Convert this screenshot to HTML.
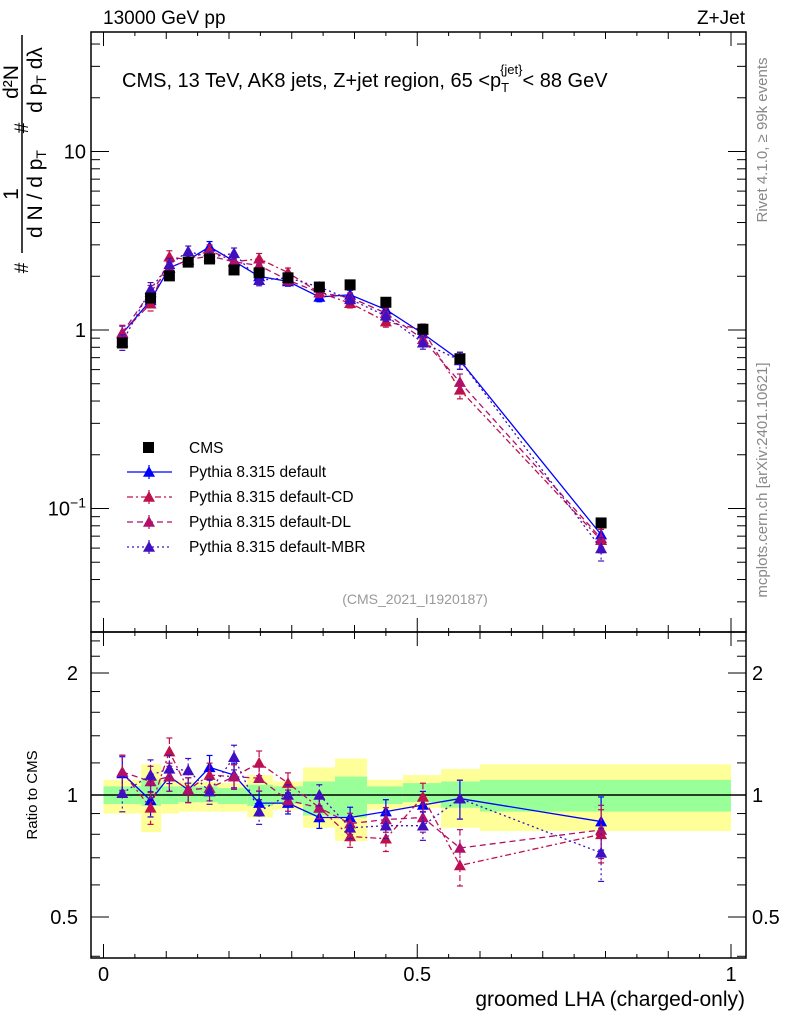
<!DOCTYPE html>
<html><head><meta charset="utf-8"><style>
body{margin:0;background:#fff}
svg{display:block;font-family:"Liberation Sans",sans-serif}
</style></head><body>
<svg id="c" width="786" height="1024" viewBox="0 0 786 1024" xmlns="http://www.w3.org/2000/svg">
<g id="bands"></g>
<g id="marks"></g>
<g id="axes"></g>
<text x="103" y="24" font-size="19">13000 GeV pp</text>
<text x="745" y="24" font-size="19" text-anchor="end">Z+Jet</text>
<text x="122" y="87" font-size="20">CMS, 13 TeV, AK8 jets, Z+jet region, 65 &lt;p<tspan font-size="13" dy="5">T</tspan><tspan font-size="13" dx="-9" dy="-18">{jet}</tspan><tspan dy="13">&lt; 88 GeV</tspan></text>
<text x="415" y="604" font-size="14" fill="#999" text-anchor="middle">(CMS_2021_I1920187)</text>
<text transform="translate(767,140) rotate(-90)" font-size="15" fill="#888" text-anchor="middle">Rivet 4.1.0, ≥ 99k events</text>
<text transform="translate(767,480) rotate(-90)" font-size="15" fill="#888" text-anchor="middle">mcplots.cern.ch [arXiv:2401.10621]</text>
<g font-size="21">
<line x1="22" y1="35" x2="22" y2="253" stroke="#000" stroke-width="1.5"/>
<text transform="translate(18,194) rotate(-90)" text-anchor="middle">1</text>
<text transform="translate(42,194) rotate(-90)" text-anchor="middle">d N / d p<tspan font-size="14" dy="4">T</tspan></text>
<text transform="translate(28,268) rotate(-90)" text-anchor="middle" font-size="19">#</text>
<text transform="translate(18,82) rotate(-90)" text-anchor="middle">d²N</text>
<text transform="translate(42,80) rotate(-90)" text-anchor="middle">d p<tspan font-size="14" dy="4">T</tspan><tspan dy="-4"> dλ</tspan></text>
<text transform="translate(28,128) rotate(-90)" text-anchor="middle" font-size="19">#</text>
</g>
<text transform="translate(37,795) rotate(-90)" font-size="15" text-anchor="middle">Ratio to CMS</text>
<text x="745" y="1006" font-size="21" text-anchor="end">groomed LHA (charged-only)</text>
<g id="legend" font-size="15.5"></g>
</svg>
<script>
// ---- data ----
const xVals = [0.030,0.075,0.105,0.135,0.169,0.208,0.248,0.294,0.344,0.393,0.450,0.509,0.568,0.793];
const binEdges = [0,0.060,0.092,0.120,0.151,0.182,0.229,0.270,0.318,0.369,0.420,0.477,0.538,0.600,1.0];
const cmsVals = [0.846,1.51,2.01,2.40,2.50,2.17,2.09,1.96,1.74,1.79,1.43,1.01,0.69,0.083];
const bandYellowUp = [1.09,1.19,1.09,1.08,1.08,1.07,1.12,1.08,1.17,1.23,1.09,1.12,1.16,1.19];
const bandYellowDn = [0.90,0.81,0.90,0.91,0.91,0.91,0.88,0.92,0.83,0.77,0.92,0.93,0.83,0.815];
const bandGreenUp = [1.05,1.09,1.05,1.05,1.05,1.04,1.06,1.05,1.08,1.11,1.05,1.07,1.08,1.09];
const bandGreenDn = [0.95,0.94,0.95,0.96,0.96,0.95,0.94,0.95,0.89,0.88,0.95,0.96,0.93,0.91];
const ratioDefault = [1.13,0.97,1.11,1.03,1.17,1.12,0.955,0.955,0.88,0.88,0.91,0.945,0.98,0.86];
const ratioCD = [1.14,0.93,1.28,1.03,1.12,1.11,1.20,1.07,0.93,0.79,0.78,0.99,0.67,0.80];
const ratioDL = [1.14,1.08,1.11,1.03,1.04,1.11,1.10,0.97,0.93,0.85,0.87,0.88,0.74,0.82];
const ratioMBR = [1.01,1.12,1.16,1.15,1.02,1.24,0.91,1.00,1.00,0.83,0.84,0.84,0.98,0.72];
const modelErr = [0.10,0.09,0.08,0.07,0.07,0.07,0.07,0.06,0.06,0.06,0.07,0.08,0.11,0.15];
const xTicks = [0,0.5,1];
const xTickLabels = ["0","0.5","1"];
const ratioTicks = [0.5,1,2];
const ratioTickLabels = ["0.5","1","2"];

// ---- scales ----
const X0=91,X1=746,TOP=32,MID=632,BOT=958;
const xs = v => 103.5 + 627.5*v;
const ys = v => 330 - 178.5*Math.log10(v);
const yr = r => 795 - 122*Math.log2(r);
const NS="http://www.w3.org/2000/svg";
function mk(parent,tag,attrs){const e=document.createElementNS(NS,tag);for(const k in attrs)e.setAttribute(k,attrs[k]);parent.appendChild(e);return e;}
const bands=document.getElementById('bands'),marks=document.getElementById('marks'),axes=document.getElementById('axes'),legend=document.getElementById('legend');

for(let i=0;i<xVals.length;i++){
  const xa=xs(binEdges[i]),xb=xs(binEdges[i+1]);
  let r=mk(bands,'rect',{x:xa,y:yr(bandYellowUp[i]),width:xb-xa,height:yr(bandYellowDn[i])-yr(bandYellowUp[i]),fill:'#ffff99'});
  
  
  let g=mk(bands,'rect',{x:xa,y:yr(bandGreenUp[i]),width:xb-xa,height:yr(bandGreenDn[i])-yr(bandGreenUp[i]),fill:'#99ff99'});
  
  
}
let one=mk(bands,'line',{x1:X0,x2:X1,y1:yr(1),y2:yr(1),stroke:'#000','stroke-width':1.5});



function tri(p,x,y,c){const s=6;return mk(p,'polygon',{points:`${x},${y-s} ${x-s},${y+s*0.8} ${x+s},${y+s*0.8}`,fill:c});}

const series=[
 {name:'Pythia 8.315 default',ratio:ratioDefault,color:'#0000ff',dash:'',key:'default'},
 {name:'Pythia 8.315 default-CD',ratio:ratioCD,color:'#c0104a',dash:'6,3,2,3',key:'cd'},
 {name:'Pythia 8.315 default-DL',ratio:ratioDL,color:'#b0106a',dash:'6,4',key:'dl'},
 {name:'Pythia 8.315 default-MBR',ratio:ratioMBR,color:'#4010c0',dash:'2,3',key:'mbr'}
];
series.forEach(s=>{
  const gm=mk(marks,'g',{});
  
  
  const mainPts=s.ratio.map((r,i)=>[xs(xVals[i]),ys(cmsVals[i]*r)]);
  const ratPts=s.ratio.map((r,i)=>[xs(xVals[i]),yr(r)]);
  [[mainPts,v=>ys(v),i=>cmsVals[i]*s.ratio[i]],[ratPts,v=>yr(v),i=>s.ratio[i]]].forEach(([pts,ysc,val])=>{
    const pl=mk(gm,'polyline',{points:pts.map(p=>p.join(',')).join(' '),fill:'none',stroke:s.color,'stroke-width':1.3,'stroke-dasharray':s.dash});
    
    
    pts.forEach((p,i)=>{
      const v=val(i),e=modelErr[i];
      mk(gm,'line',{x1:p[0],x2:p[0],y1:ysc(v*(1+e)),y2:ysc(v*(1-e)),stroke:s.color,'stroke-width':1.2,'stroke-dasharray':s.dash});
      mk(gm,'line',{x1:p[0]-3,x2:p[0]+3,y1:ysc(v*(1+e)),y2:ysc(v*(1+e)),stroke:s.color,'stroke-width':1.2});
      mk(gm,'line',{x1:p[0]-3,x2:p[0]+3,y1:ysc(v*(1-e)),y2:ysc(v*(1-e)),stroke:s.color,'stroke-width':1.2});
      const t=tri(gm,p[0],p[1],s.color);
      
      
    });
  });
});
cmsVals.forEach((v,i)=>{
  const x=xs(xVals[i]),y=ys(v);
  const r=mk(marks,'rect',{x:x-5.5,y:y-5.5,width:11,height:11,fill:'#000'});
  
  
});

[[TOP,MID],[MID,BOT]].forEach(([a,b])=>mk(axes,'rect',{x:X0,y:a,width:X1-X0,height:b-a,fill:'none',stroke:'#000','stroke-width':1.5}));
for(let k=0;k<=20;k++){
  const v=k*0.05,x=xs(v),L=(k%10===0)?14:(k%2===0?7:4);
  [[BOT,-1],[MID,-1],[MID,1],[TOP,1]].forEach(([y0,d])=>mk(axes,'line',{x1:x,x2:x,y1:y0,y2:y0+d*L,stroke:'#000','stroke-width':1}));
}
xTicks.forEach((v,i)=>{const t=mk(axes,'text',{x:xs(v),y:981,'font-size':20,'text-anchor':'middle'});t.textContent=xTickLabels[i];
 
 });
for(let d=-2;d<=1;d++){for(let m=1;m<=9;m++){
  const v=m*Math.pow(10,d),y=ys(v); if(y<TOP||y>MID)continue;
  const L=m===1?18:9;
  mk(axes,'line',{x1:X0,x2:X0+L,y1:y,y2:y,stroke:'#000'});
  mk(axes,'line',{x1:X1,x2:X1-L,y1:y,y2:y,stroke:'#000'});
}}
[[10,'10'],[1,'1']].forEach(([v,l])=>{const t=mk(axes,'text',{x:86,y:ys(v)+7,'font-size':20,'text-anchor':'end'});t.textContent=l;
 
 });
const tm=mk(axes,'text',{x:86,y:ys(0.1)+7,'font-size':20,'text-anchor':'end'});
tm.innerHTML='10<tspan font-size="14" dy="-8">−1</tspan>';


[0.4,0.5,0.6,0.7,0.8,0.9,1,1.2,1.4,1.6,1.8,2,2.2,2.4].forEach(v=>{
  const y=yr(v); if(y<MID||y>BOT)return;
  const L=[0.5,1,2].includes(v)?18:9;
  mk(axes,'line',{x1:X0,x2:X0+L,y1:y,y2:y,stroke:'#000'});
  mk(axes,'line',{x1:X1,x2:X1-L,y1:y,y2:y,stroke:'#000'});
});
ratioTicks.forEach((v,i)=>{
  const a=mk(axes,'text',{x:78,y:yr(v)+7,'font-size':20,'text-anchor':'end'});a.textContent=ratioTickLabels[i];
  
  
  const b=mk(axes,'text',{x:752,y:yr(v)+7,'font-size':20});b.textContent=ratioTickLabels[i];
  
  
});

const lc=mk(legend,'rect',{x:143,y:442,width:11,height:11,fill:'#000'});


const lt=mk(legend,'text',{x:189,y:453});lt.textContent='CMS';
series.forEach((s,i)=>{
  const y=472+25*i;
  const g=mk(legend,'g',{});
  
  
  mk(g,'line',{x1:127,x2:172,y1:y,y2:y,stroke:s.color,'stroke-width':1.3,'stroke-dasharray':s.dash});
  mk(g,'line',{x1:149,x2:149,y1:y-7,y2:y+7,stroke:s.color,'stroke-width':1.2});
  tri(g,149,y,s.color);
  const t=mk(g,'text',{x:189,y:y+5});t.textContent=s.name;
});
</script>
</body></html>
